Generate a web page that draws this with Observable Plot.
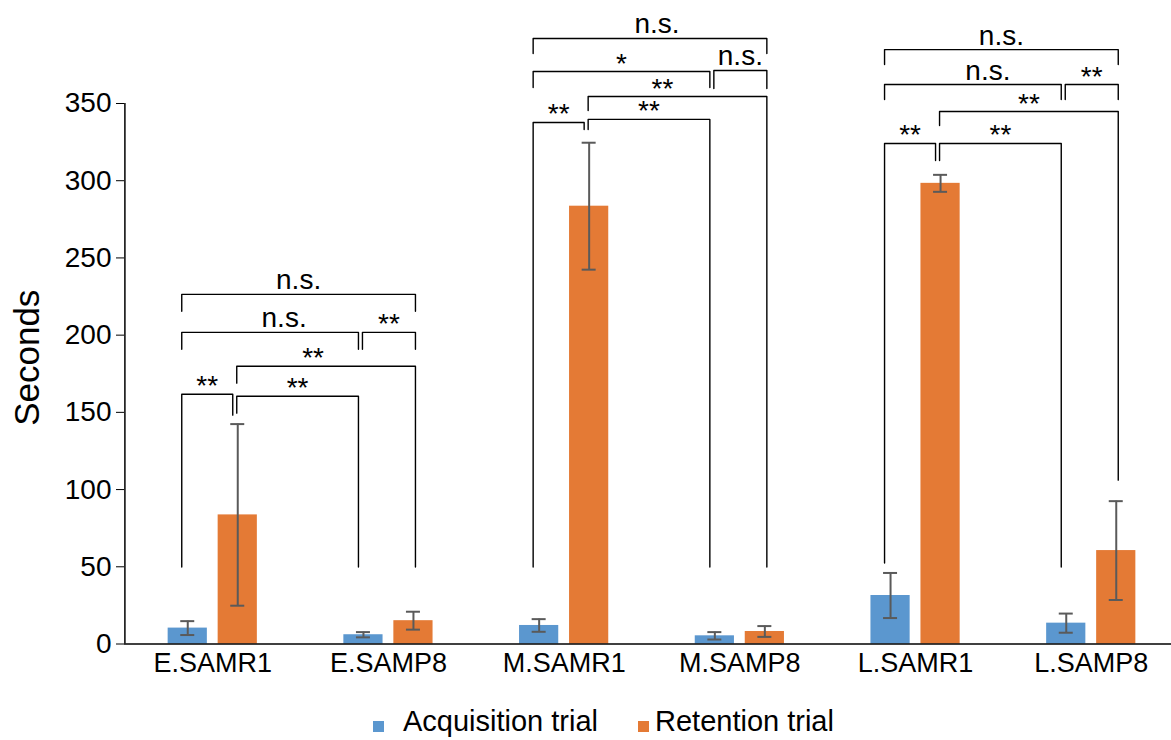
<!DOCTYPE html>
<html>
<head>
<meta charset="utf-8">
<script src="https://cdn.jsdelivr.net/npm/d3@7"></script>
<script src="https://cdn.jsdelivr.net/npm/@observablehq/plot@0.6"></script>
<style>
  body { margin: 0; background: #fff; font-family: "Liberation Sans", Arial, sans-serif; }
  #legend { position: relative; width: 1171px; height: 40px; }
  #legend .sw { position: absolute; width: 11px; height: 11px; }
  #legend .lb { position: absolute; font-size: 29px; line-height: 29px; color: #000; white-space: nowrap; }
</style>
</head>
<body>
<div id="chart"></div>
<div id="legend"></div>
<script>
// ---------- data ----------
const categories = ["E.SAMR1", "E.SAMP8", "M.SAMR1", "M.SAMP8", "L.SAMR1", "L.SAMP8"];
const seriesNames = ["Acquisition trial", "Retention trial"];
const acquisition    = [10.3, 6.0, 12.0, 5.3, 31.4, 13.5];
const acquisitionErr = [4.5, 1.7, 4.1, 2.4, 14.6, 6.2];
const retention      = [83.6, 15.1, 283.5, 8.1, 298.3, 60.5];
const retentionErr   = [58.8, 5.8, 41.1, 3.5, 5.5, 32.0];
const yTicks = [0, 50, 100, 150, 200, 250, 300, 350];
const yLabel = "Seconds";

// significance brackets: [group, from bar, to bar, level, left foot, right foot, label]
// bars inside a group: A = first acq, B = first ret, C = second acq, D = second ret
const comparisons = [
  ["E", "A", "B", 161.7, 49.8, 148.2, "**"],
  ["E", "B", "C", 160.4, 149.5, 49.8, "**"],
  ["E", "B", "D", 179.9, 168.9, 49.8, "**"],
  ["E", "A", "C", 201.8, 190.8, 190.8, "n.s."],
  ["E", "C", "D", 201.8, 190.8, 190.8, "**"],
  ["E", "A", "D", 226.4, 215.4, 215.4, "n.s."],
  ["M", "A", "B", 337.7, 49.8, 333.2, "**"],
  ["M", "B", "C", 339.7, 333.2, 49.8, "**"],
  ["M", "B", "D", 354.5, 345.5, 49.8, "**"],
  ["M", "A", "C", 370.7, 360.4, 360.4, "*"],
  ["M", "C", "D", 371.4, 359.7, 359.7, "n.s."],
  ["M", "A", "D", 392.1, 382.3, 382.3, "n.s."],
  ["L", "A", "B", 324.1, 52.4, 313.1, "**"],
  ["L", "B", "C", 324.1, 313.1, 49.8, "**"],
  ["L", "B", "D", 344.8, 335.8, 106.1, "**"],
  ["L", "A", "C", 362.3, 352.6, 352.6, "n.s."],
  ["L", "C", "D", 362.3, 352.6, 352.6, "**"],
  ["L", "A", "D", 384.9, 375.2, 375.2, "n.s."]
];
const groupStart = {E: 0, M: 2, L: 4};

// ---------- layout (not data) ----------
const colors = ["#5b97cf", "#e47a35"];
const PX = 1 / 175.7;          // one pixel in x units
const OFF = 25 * PX;           // bar centre offset from category centre
const HALF = 19.6 * PX;        // half bar width
const CAP = 7 * PX;            // error cap half width
const labelNudge = {"E:B-D": -13, "M:B-D": -15, "E:A-C": 14, "L:A-C": 15, "M:A-D": 7};

const rows = categories.flatMap((c, i) => [
  {cat: c, series: seriesNames[0], v: acquisition[i], e: acquisitionErr[i], cx: i + 0.5 - OFF},
  {cat: c, series: seriesNames[1], v: retention[i], e: retentionErr[i], cx: i + 0.5 + OFF}
]);

function barCenter(g, b) {
  const i = groupStart[g] + (b === "A" || b === "B" ? 0 : 1);
  return i + 0.5 + (b === "A" || b === "C" ? -OFF : OFF);
}

const bracketPts = [];
const bracketLabels = [];
comparisons.forEach(([g, f, t, level, lf, rf, label], k) => {
  const x1 = barCenter(g, f) + (f === "A" ? -6 : -1) * PX;
  const x2 = barCenter(g, t) + (t === "D" ? 2 : -5) * PX;
  bracketPts.push({k, x: x1, y: lf}, {k, x: x1, y: level}, {k, x: x2, y: level}, {k, x: x2, y: rf});
  const nudge = labelNudge[`${g}:${f}-${t}`] || 0;
  bracketLabels.push({x: (x1 + x2) / 2 + nudge * PX, y: level, label, star: /^\*+$/.test(label)});
});

const plot = Plot.plot({
  width: 1171,
  height: 700,
  marginLeft: 124,
  marginRight: 0,
  marginTop: 103,
  marginBottom: 56.5,
  style: {fontFamily: "'Liberation Sans', Arial, sans-serif", fontSize: "28px", color: "#000", background: "#fff"},
  x: {type: "linear", domain: [0, categories.length], range: [124.4, 1178.6]},
  y: {domain: [0, 350]},
  color: {domain: seriesNames, range: colors},
  marks: [
    Plot.rectY(rows, {x1: d => d.cx - HALF, x2: d => d.cx + HALF, y1: 0, y2: "v", fill: "series"}),
    Plot.ruleX(rows, {x: "cx", y1: d => d.v - d.e, y2: d => d.v + d.e, stroke: "#5a5a5a", strokeWidth: 2}),
    Plot.ruleY(rows, {y: d => d.v + d.e, x1: d => d.cx - CAP, x2: d => d.cx + CAP, stroke: "#5a5a5a", strokeWidth: 2}),
    Plot.ruleY(rows, {y: d => d.v - d.e, x1: d => d.cx - CAP, x2: d => d.cx + CAP, stroke: "#5a5a5a", strokeWidth: 2}),
    Plot.line(bracketPts, {x: "x", y: "y", z: "k", stroke: "#000", strokeWidth: 1.4}),
    Plot.text(bracketLabels.filter(d => !d.star), {x: "x", y: "y", text: "label", lineAnchor: "bottom", fontSize: 28, dy: -5, fill: "#000"}),
    Plot.text(bracketLabels.filter(d => d.star), {x: "x", y: "y", text: "label", lineAnchor: "bottom", fontSize: 28, dy: 1, fill: "#000"}),
    Plot.axisY({ticks: yTicks, tickSize: 8, tickPadding: 5, fontSize: 28, label: null, stroke: "#000"}),
    Plot.axisX({ticks: categories.map((c, i) => i + 0.5), tickFormat: t => categories[Math.floor(t)], tickSize: 0, tickPadding: 9, fontSize: 27, label: null}),
    Plot.ruleY([0], {stroke: "#000", strokeWidth: 1.5}),
    Plot.ruleX([0], {stroke: "#000", strokeWidth: 1.5}),
    Plot.text([yLabel], {frameAnchor: "left", text: d => d, rotate: -90, textAnchor: "middle", dx: -97, dy: -16, fontSize: 35, fill: "#000"})
  ]
});
document.getElementById("chart").appendChild(plot);

// legend
const legend = document.getElementById("legend");
const legendPos = [{sw: 373, lb: 403}, {sw: 638, lb: 655}];
seriesNames.forEach((name, i) => {
  const sw = document.createElement("div");
  sw.className = "sw";
  sw.style.left = legendPos[i].sw + "px";
  sw.style.top = "21px";
  sw.style.background = colors[i];
  legend.appendChild(sw);
  const lb = document.createElement("div");
  lb.className = "lb";
  lb.style.left = legendPos[i].lb + "px";
  lb.style.top = "7px";
  lb.textContent = name;
  legend.appendChild(lb);
});
</script>
</body>
</html>
